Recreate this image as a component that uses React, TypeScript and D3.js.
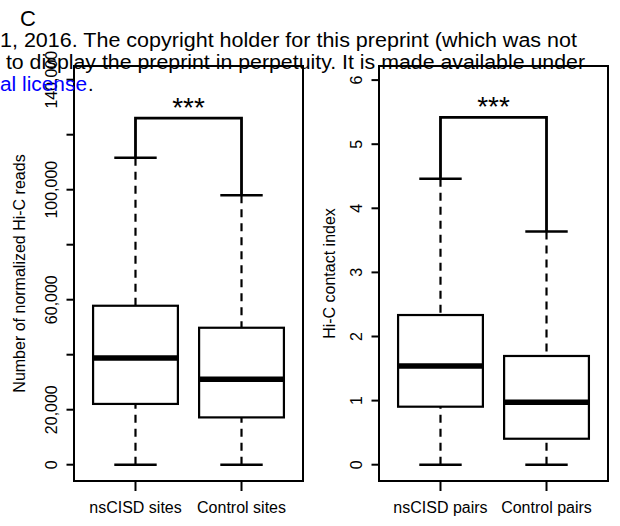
import React from "react";
import * as d3 from "d3";

// ---- data ----
const leftCategories = ["nsCISD sites", "Control sites"];
// [whisker min, Q1, median, Q3, whisker max]
const nsCISDSites = [0, 22100, 38800, 57800, 111600];
const controlSites = [0, 17200, 31100, 49800, 98000];
const leftTicks = [0, 20000, 40000, 60000, 80000, 100000, 120000, 140000];
const leftTickLabels = ["0", "20,000", "", "60,000", "", "100,000", "", "140,000"];
const leftTitle = "Number of normalized Hi-C reads";
const leftBracket = 126000;

const rightCategories = ["nsCISD pairs", "Control pairs"];
const nsCISDPairs = [0, 0.905, 1.54, 2.335, 4.46];
const controlPairs = [0, 0.405, 0.973, 1.696, 3.64];
const rightTicks = [0, 1, 2, 3, 4, 5, 6];
const rightTickLabels = ["0", "1", "2", "3", "4", "5", "6"];
const rightTitle = "Hi-C contact index";
const rightBracket = 5.42;

const significance = "***";
const panelLetter = "C";
const headerLines = [
  "1, 2016. The copyright holder for this preprint (which was not",
  " to display the preprint in perpetuity. It is made available under",
];
const headerLink = "al license";

const FONT = "'Liberation Sans', Arial, Helvetica, sans-serif";

type PanelProps = {
  left: number;
  right: number;
  top: number;
  bottom: number;
  domainMax: number;
  yZero: number;
  yMaxPx: number;
  ticks: number[];
  tickLabels: string[];
  title: string;
  titleX: number;
  tickLabelX: number;
  categories: string[];
  stats: number[][];
  bracket: number;
};

function Panel(p: PanelProps) {
  const x = d3.scaleLinear().domain([0.42, 2.58]).range([p.left, p.right]);
  const y = d3.scaleLinear().domain([0, p.domainMax]).range([p.yZero, p.yMaxPx]);
  const boxHalf = x(1.4) - x(1);
  const capHalf = x(1.2) - x(1);
  const midY = (p.top + p.bottom) / 2;
  const bx1 = x(1);
  const bx2 = x(2);
  const by = y(p.bracket);
  return (
    <g>
      {/* frame */}
      <rect x={p.left} y={p.top} width={p.right - p.left} height={p.bottom - p.top}
        fill="none" stroke="#000" strokeWidth={2} />
      {/* y axis ticks */}
      {p.ticks.map((t, i) => (
        <g key={"yt" + i}>
          <line x1={p.left - 7.5} x2={p.left} y1={y(t)} y2={y(t)} stroke="#000" strokeWidth={2} />
          {p.tickLabels[i] !== "" && (
            <text transform={`translate(${p.tickLabelX},${y(t)}) rotate(-90)`} textAnchor="middle"
              fontFamily={FONT} fontSize={16} fill="#000">{p.tickLabels[i]}</text>
          )}
        </g>
      ))}
      {/* y title */}
      <text transform={`translate(${p.titleX},${midY}) rotate(-90)`} textAnchor="middle"
        fontFamily={FONT} fontSize={16} fill="#000">{p.title}</text>
      {/* x ticks and labels */}
      {p.categories.map((c, i) => (
        <g key={"xt" + i}>
          <line x1={x(i + 1)} x2={x(i + 1)} y1={p.bottom} y2={p.bottom + 10} stroke="#000" strokeWidth={2} />
          <text x={x(i + 1)} y={513} textAnchor="middle" fontFamily={FONT} fontSize={16} fill="#000">{c}</text>
        </g>
      ))}
      {/* boxes */}
      {p.stats.map((s, i) => {
        const cx = x(i + 1);
        return (
          <g key={"b" + i}>
            <line x1={cx} x2={cx} y1={y(s[0])} y2={y(s[1])} stroke="#000" strokeWidth={2.2} strokeDasharray="8,6" />
            <line x1={cx} x2={cx} y1={y(s[4])} y2={y(s[3])} stroke="#000" strokeWidth={2.2} strokeDasharray="8,6" />
            <line x1={cx - capHalf} x2={cx + capHalf} y1={y(s[0])} y2={y(s[0])} stroke="#000" strokeWidth={2.5} />
            <line x1={cx - capHalf} x2={cx + capHalf} y1={y(s[4])} y2={y(s[4])} stroke="#000" strokeWidth={2.5} />
            <rect x={cx - boxHalf} y={y(s[3])} width={2 * boxHalf} height={y(s[1]) - y(s[3])}
              fill="#fff" stroke="#000" strokeWidth={2.2} />
            <line x1={cx - boxHalf} x2={cx + boxHalf} y1={y(s[2])} y2={y(s[2])} stroke="#000" strokeWidth={5.5} />
          </g>
        );
      })}
      {/* significance bracket */}
      <path d={`M${bx1},${y(p.stats[0][4])}V${by}H${bx2}V${y(p.stats[1][4])}`}
        fill="none" stroke="#000" strokeWidth={2.8} />
      <text x={(bx1 + bx2) / 2} y={by - 1} textAnchor="middle" fontFamily={FONT} fontSize={28} fill="#000">{significance}</text>
    </g>
  );
}

export default function App() {
  return (
    <svg width={620} height={526} style={{ position: "absolute", left: 0, top: 0, background: "#fff" }}>
      <rect x={0} y={0} width={620} height={526} fill="#fff" />
      <Panel left={74} right={303} top={66} bottom={481} domainMax={140000} yZero={464.7} yMaxPx={79.7}
        ticks={leftTicks} tickLabels={leftTickLabels} title={leftTitle} titleX={25} tickLabelX={57}
        categories={leftCategories} stats={[nsCISDSites, controlSites]} bracket={leftBracket} />
      <Panel left={379} right={608} top={66} bottom={481} domainMax={6} yZero={464.7} yMaxPx={80.1}
        ticks={rightTicks} tickLabels={rightTickLabels} title={rightTitle} titleX={335} tickLabelX={362}
        categories={rightCategories} stats={[nsCISDPairs, controlPairs]} bracket={rightBracket} />
      {/* header text from the page */}
      <text x={20} y={26} fontFamily={FONT} fontSize={22} fill="#000">{panelLetter}</text>
      <text x={0} y={47} fontFamily={FONT} fontSize={20} fill="#000" textLength={577} lengthAdjust="spacingAndGlyphs">{headerLines[0]}</text>
      <text x={0} y={69} fontFamily={FONT} fontSize={20} fill="#000" textLength={585} lengthAdjust="spacingAndGlyphs" style={{ whiteSpace: "pre" }}>{headerLines[1]}</text>
      <text x={0} y={91} fontFamily={FONT} fontSize={20} fill="#0000ff" textLength={87} lengthAdjust="spacingAndGlyphs">{headerLink}</text>
      <text x={88} y={91} fontFamily={FONT} fontSize={20} fill="#000">.</text>
    </svg>
  );
}
